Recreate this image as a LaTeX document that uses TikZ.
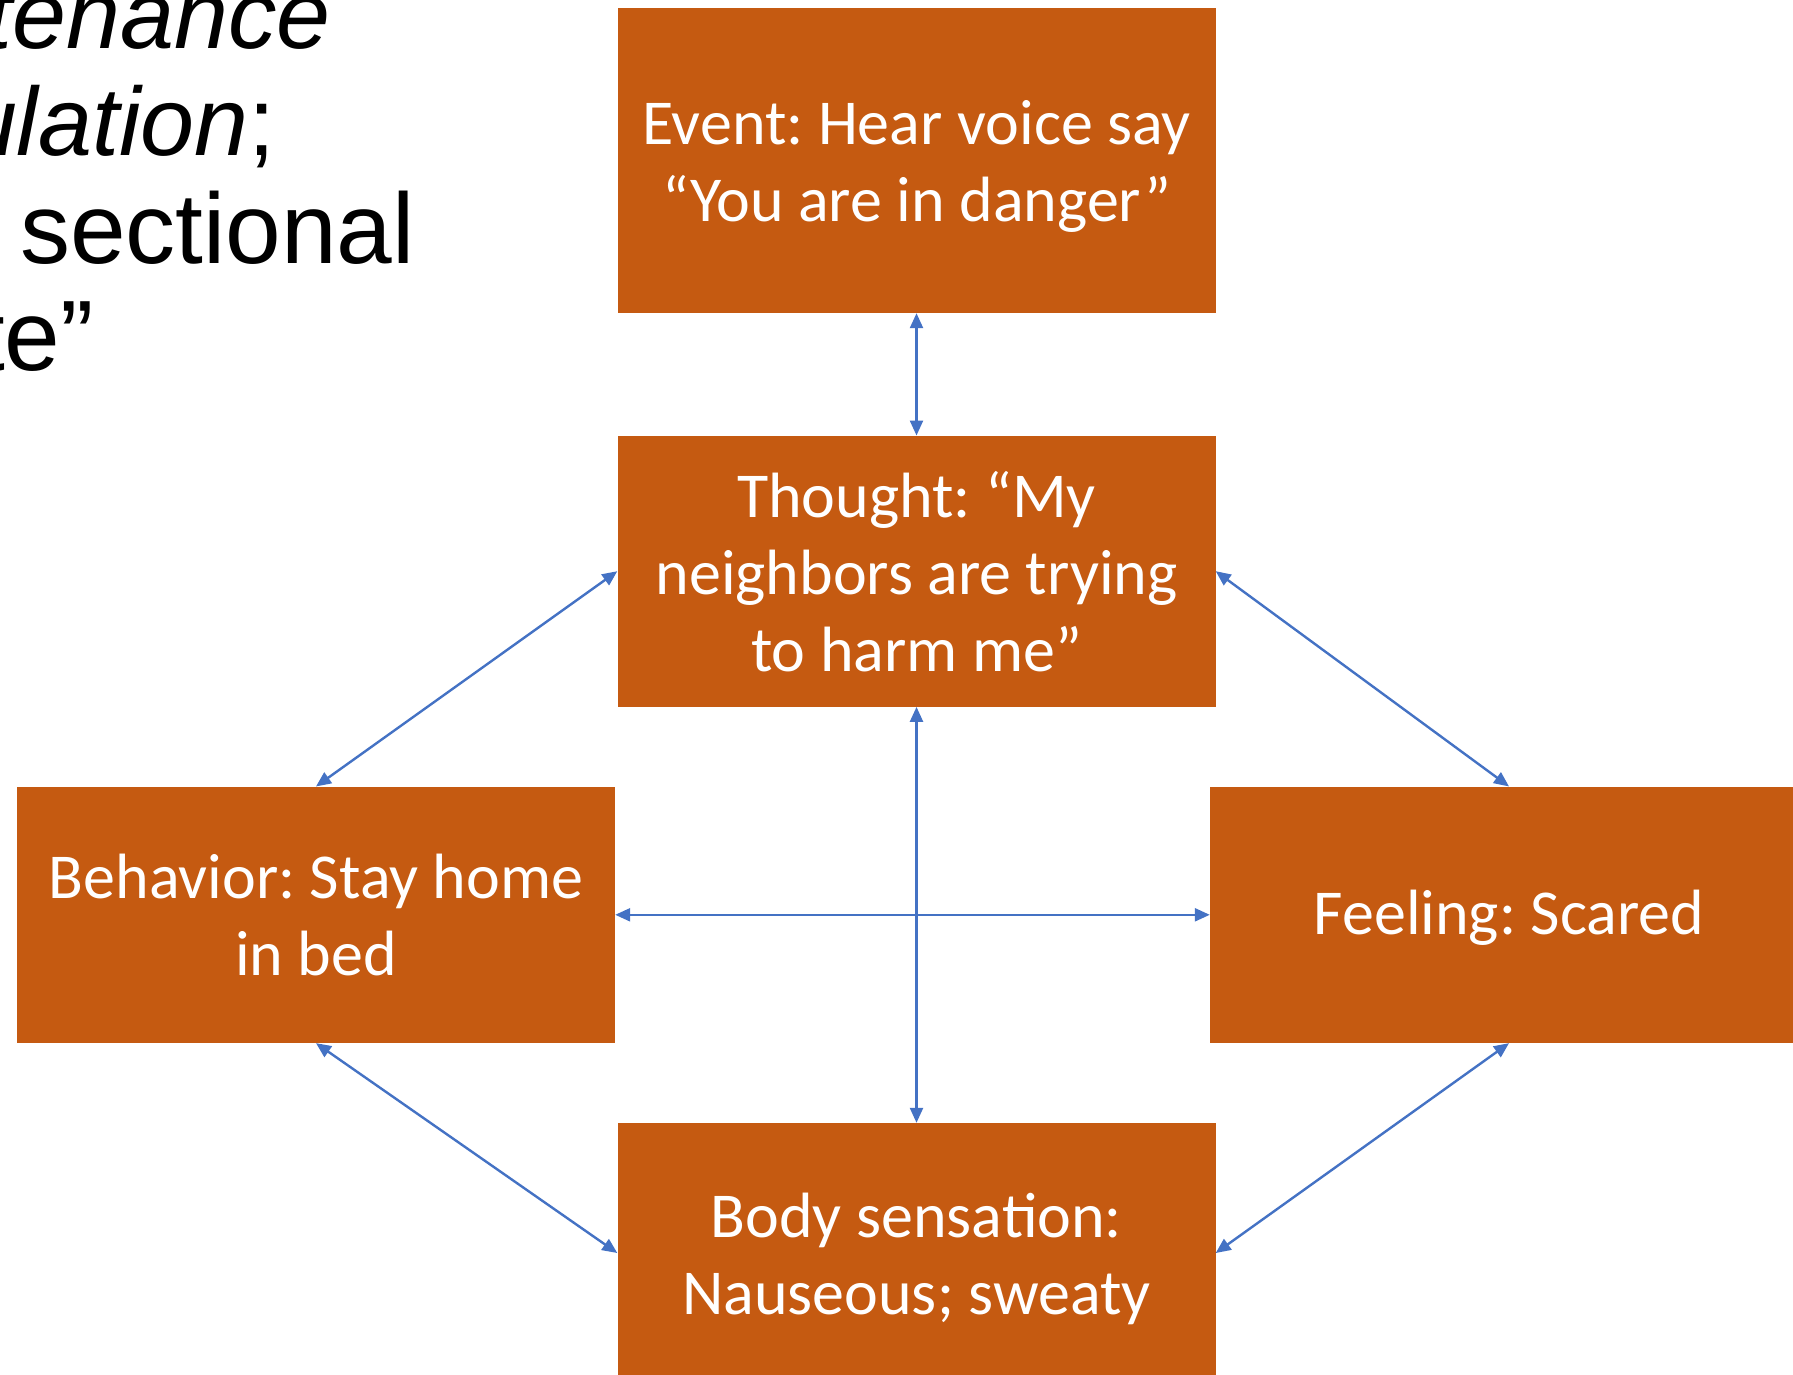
\documentclass[tikz,border=0pt]{standalone}
\usepackage{fontspec}
\setmainfont{Carlito}
\newfontfamily\arialfont{Liberation Sans}
\usetikzlibrary{arrows.meta,calc}
\definecolor{boxorange}{HTML}{C55A11}
\definecolor{linkblue}{HTML}{4472C4}
\frenchspacing
\begin{document}
\begin{tikzpicture}[x=1pt,y=-1pt,
  cbox/.style={rectangle, fill=boxorange, inner sep=0pt, minimum width=598pt},
  ctext/.style={text=white, inner sep=0pt, align=center,
    font=\fontsize{64}{77}\selectfont},
  link/.style={draw=linkblue, line width=2.4pt,
    {Triangle[length=15pt,width=13pt]}-{Triangle[length=15pt,width=13pt]}},
  side/.style={anchor=base east, inner sep=0pt,
    font=\arialfont\fontsize{97}{107}\selectfont},
  sideup/.style={side, font=\arialfont\fontsize{100}{107}\selectfont}]
\useasboundingbox (0,0) rectangle (1793,1375);
\begin{scope}
\clip (0,0) rectangle (1793,1375);

% heading fragments at the left edge
\node[side] (h1) at (331,48.3) {\textit{tenance}};
\node[side] (h2) at (276,156) {\textit{ulation};};
\node[sideup] (h3) at (415,263.3) {sectional};
\node[sideup] (h4) at (94,370) {te”};

% boxes
\node[cbox, minimum height=305pt] (event) at (916.5,160.5) {};
\node[cbox, minimum height=271pt] (thought) at (916.5,571.2) {};
\node[cbox, minimum height=256.3pt] (behav) at (316,914.8) {};
\node[cbox, minimum height=256.3pt] (feel) at (1509,914.8) {};
\node[cbox, minimum height=260pt] (body) at (916.5,1253) {};

% box labels
\node[ctext] (eventtxt) at ($(event.center)+(0,6)$)
  {Event: Hear voice say\\“You are in danger”};
\node[ctext] (thoughttxt) at (thought.center)
  {Thought: “My\\neighbors are trying\\to harm me”};
\node[ctext] (behavtxt) at (behav.center)
  {Behavior: Stay home\\in bed};
\node[ctext] (feeltxt) at ($(feel.center)+(0,3)$)
  {Feeling: Scared};
\node[ctext] (bodytxt) at ($(body.center)+(0,6)$)
  {Body sensation:\\Nauseous; sweaty};

% two-way links
\draw[link] (event.south) -- (thought.north);
\draw[link] (thought.west) -- (behav.north);
\draw[link] (thought.east) -- (feel.north);
\draw[link] (thought.south) -- (body.north);
\draw[link] (behav.east) -- (feel.west);
\draw[link] (behav.south) -- (body.west);
\draw[link] (feel.south) -- (body.east);
\end{scope}
\end{tikzpicture}
\end{document}
